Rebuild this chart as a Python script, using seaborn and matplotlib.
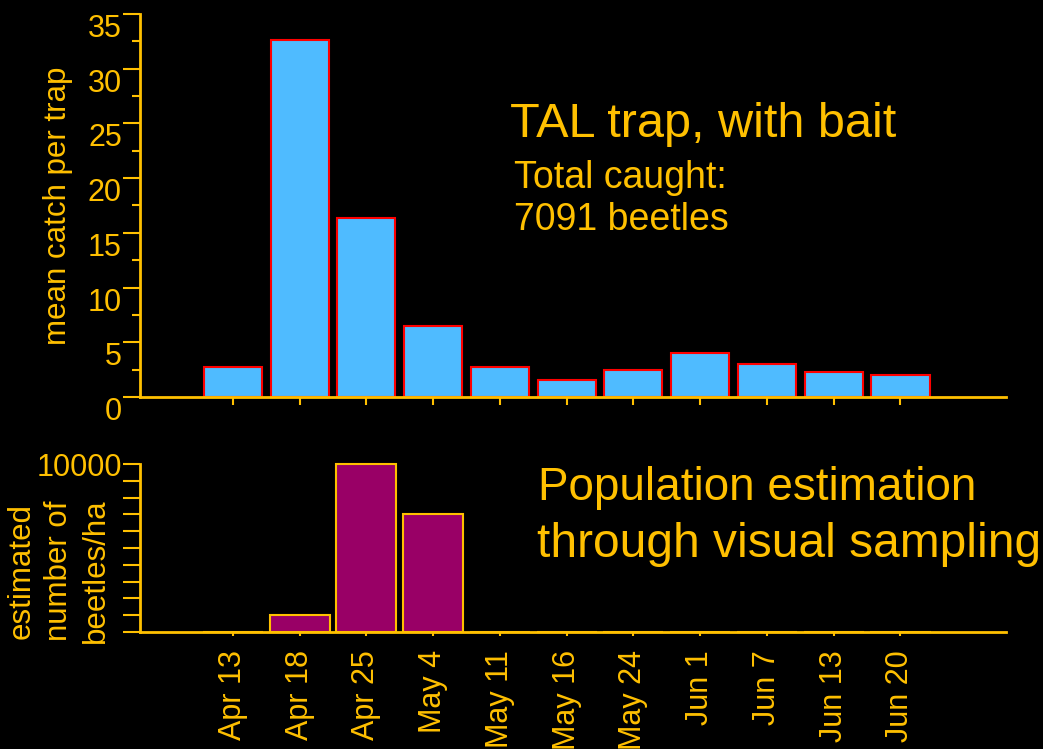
import numpy as np
import matplotlib.pyplot as plt
import matplotlib.ticker as mticker
import seaborn as sns

# sampling dates and values
dates = ['Apr 13', 'Apr 18', 'Apr 25', 'May 4', 'May 11', 'May 16',
         'May 24', 'Jun 1', 'Jun 7', 'Jun 13', 'Jun 20']
mean_catch = [2.75, 32.6, 16.4, 6.5, 2.75, 1.55, 2.5, 4.0, 3.05, 2.3, 2.0]
beetles_ha = [0, 1000, 10000, 7000, 0, 0, 0, 0, 0, 0, 0]

# colours
orange = '#FFC000'
blue = '#4FBBFF'
purple = '#990066'

sns.set_theme(style='ticks')
plt.rcParams['font.family'] = ['Liberation Sans', 'DejaVu Sans']
plt.rcParams['figure.facecolor'] = 'black'
plt.rcParams['axes.facecolor'] = 'black'

fig = plt.figure(figsize=(10.43, 7.49), dpi=100)
ax1 = fig.add_axes([0.1342, 0.470, 0.8303, 0.5113])
ax2 = fig.add_axes([0.1342, 0.1562, 0.8303, 0.2243])

# top panel: TAL trap catches
sns.barplot(x=dates, y=mean_catch, ax=ax1, color=blue, saturation=1,
            edgecolor='red', linewidth=1.5, width=0.87)

# bottom panel: visual sampling
sns.barplot(x=dates, y=beetles_ha, ax=ax2, color=purple, saturation=1,
            edgecolor=orange, linewidth=1.5, width=0.9)
for p in ax2.patches:
    p.set_clip_on(False)

for ax in (ax1, ax2):
    ax.set_xlim(-1.39, 11.58)
    sns.despine(ax=ax)
    for s in ('left', 'bottom'):
        ax.spines[s].set_color(orange)
        ax.spines[s].set_linewidth(2)
    ax.tick_params(colors=orange, width=1.5, labelsize=22)

ax1.set_ylim(0, 35)
ax1.yaxis.set_major_locator(mticker.MultipleLocator(5))
ax1.yaxis.set_minor_locator(mticker.MultipleLocator(2.5))
ax1.tick_params(axis='y', which='major', length=12, pad=1)
ax1.tick_params(axis='y', which='minor', length=6, width=1.5, colors=orange)
ax1.tick_params(axis='x', length=6, labelbottom=False)
plt.setp(ax1.get_yticklabels(), va='top')
ax1.set_ylabel('mean catch per trap', color=orange, fontsize=22.5)
ax1.yaxis.set_label_coords(-0.077, 0.5)

ax2.set_ylim(0, 10000)
ax2.yaxis.set_major_locator(mticker.MultipleLocator(1000))
ax2.yaxis.set_major_formatter(
    mticker.FuncFormatter(lambda v, pos: '10000' if v == 10000 else ''))
ax2.tick_params(axis='y', length=12, pad=1)
ax2.tick_params(axis='x', length=3, pad=10, labelrotation=90)
ax2.set_ylabel('')
fig.text(59 / 1043, 1 - 571 / 749, 'estimated\nnumber of\nbeetles/ha',
         color=orange, fontsize=22.5, rotation=90, ha='center', va='center',
         multialignment='center', linespacing=1.3)

# annotations
fig.text(510 / 1043, 1 - 137 / 749, 'TAL trap, with bait', color=orange,
         fontsize=35, va='baseline')
fig.text(514 / 1043, 1 - 188 / 749, 'Total caught:', color=orange,
         fontsize=27, va='baseline')
fig.text(514 / 1043, 1 - 230 / 749, '7091 beetles', color=orange,
         fontsize=27, va='baseline')
fig.text(538 / 1043, 1 - 500 / 749, 'Population estimation', color=orange,
         fontsize=33, va='baseline')
fig.text(537 / 1043, 1 - 557 / 749, 'through visual sampling', color=orange,
         fontsize=34.5, va='baseline')

fig.savefig('out.png', dpi=100, facecolor='black')
